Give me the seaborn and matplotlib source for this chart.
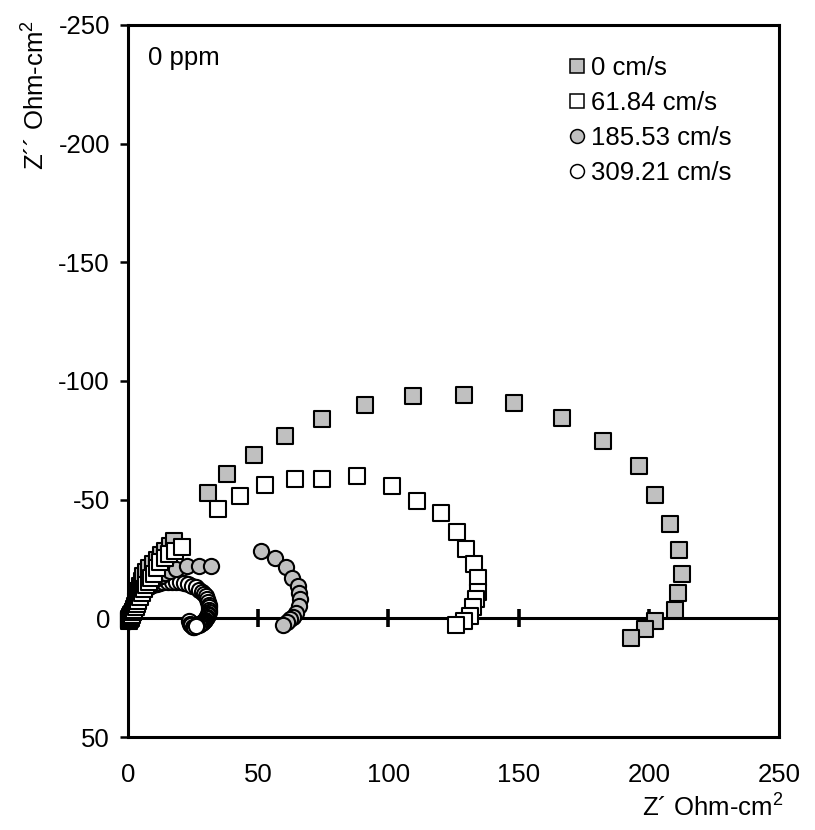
import matplotlib
matplotlib.use("Agg")
import matplotlib.pyplot as plt
from matplotlib.lines import Line2D
import numpy as np
import pandas as pd
import seaborn as sns

# Nyquist data, Z' (real) and Z'' (imaginary) in Ohm-cm^2
series_labels = ["0 cm/s", "61.84 cm/s", "185.53 cm/s", "309.21 cm/s"]

zre_0 = [0.2, 0.4, 0.6, 0.9, 1.2, 1.6, 2.0, 2.4, 2.7, 3.0, 3.3, 3.9, 4.6, 5.2, 5.9,
         7.0, 8.2, 9.7, 11.3, 12.7, 14.2, 16.0, 17.8, 30.8, 38.0,
         48.3, 60.3, 74.6, 91.1, 109.4, 129.0, 148.3, 166.8, 182.4, 196.1, 202.3,
         208.0, 211.5, 212.9, 211.3, 210.1, 202.4, 198.7, 193.3]
zim_0 = [0.8, 0.3, -0.2, -0.7, -1.2, -1.8, -2.8, -4.0, -5.3, -7.4, -9.5, -11.6, -13.7,
         -15.8, -17.9, -19.7, -21.4, -23.0, -24.6, -26.5, -28.4, -30.5, -32.6,
         -52.7, -61.0, -68.8, -77.0, -84.1, -90.0, -93.5, -93.9, -90.8, -84.4, -74.9,
         -64.2, -51.9, -39.7, -28.8, -18.6, -10.5, -3.6, 1.3, 4.6, 8.4]

zre_1 = [0.3, 0.5, 0.8, 1.0, 1.3, 1.6, 2.0, 2.4, 2.9, 3.4, 4.0, 4.6, 5.3, 6.0, 7.0,
         8.0, 9.0, 10.0, 11.2, 12.3, 14.1, 15.9, 18.2, 20.6, 34.6, 43.1,
         52.6, 64.2, 74.6, 87.9, 101.4, 110.9, 120.3, 126.2, 129.8, 132.7, 134.5,
         134.3, 133.8, 132.6, 131.3, 129.0, 126.0]
zim_1 = [1.2, 0.8, 0.2, -0.3, -0.9, -1.5, -2.5, -3.5, -4.7, -6.0, -7.5, -9.0, -10.8,
         -12.5, -14.0, -15.5, -17.0, -18.5, -21.2, -23.8, -25.4, -27.0, -28.5, -30.0,
         -46.0, -51.6, -56.2, -58.6, -58.9, -60.0, -55.8, -49.5, -44.3, -36.4, -29.1,
         -23.1, -16.8, -11.2, -8.1, -4.6, -1.1, 1.1, 2.9]

zre_2 = [0.3, 0.5, 0.7, 1.0, 1.5, 2.0, 2.5, 3.1, 3.7, 4.3, 5.1, 5.9, 7.0, 8.2, 9.6,
         11.0, 12.6, 14.2, 16.2, 18.3, 22.8, 27.3, 31.9, 50.9,
         56.5, 60.7, 63.0, 65.1, 65.6, 66.1, 65.5, 64.5, 63.2, 62.2, 60.9, 59.5]
zim_2 = [1.0, 0.5, -0.1, -0.8, -1.6, -2.4, -4.1, -5.9, -7.7, -9.5, -10.9, -12.3,
         -13.6, -14.8, -15.8, -16.8, -17.9, -18.9, -19.8, -20.7, -21.9, -22.2,
         -21.9, -28.3, -25.4, -21.6, -17.2, -13.6, -10.8, -8.0, -5.0, -2.4, -0.6, 0.4,
         1.5, 2.6]

zre_3 = [0.2, 0.4, 0.6, 0.9, 1.2, 1.5, 2.0, 2.3, 2.7, 3.3, 4.0, 4.9, 5.9, 7.0, 8.2,
         9.6, 11.0, 12.3, 13.6, 15.2, 16.8, 18.4, 20.0, 21.6, 23.2, 24.7, 26.1, 27.3,
         28.3, 29.1, 29.8, 30.4, 30.8, 31.1, 31.2, 31.2, 31.1, 30.9, 30.6, 30.3, 30.0,
         29.7, 29.3, 28.9, 28.5, 28.1, 27.6, 27.1, 26.6, 26.1, 25.6, 25.1, 24.7, 24.3,
         24.0, 23.8, 23.6, 23.8, 24.2, 24.8, 25.5, 26.3]
zim_3 = [1.0, 0.6, 0.1, -0.5, -1.2, -2.0, -2.9, -3.8, -5.2, -6.7, -8.1, -9.5, -11.6,
         -12.5, -13.4, -13.9, -14.4, -14.8, -15.1, -15.3, -15.5, -15.4, -15.1, -14.8,
         -14.4, -13.8, -13.0, -12.1, -11.2, -10.2, -9.2, -8.1, -7.0, -5.8, -4.6,
         -3.5, -2.5, -1.8, -1.2, -0.6, 0.0, 0.5, 1.0, 1.4, 1.8, 2.1, 2.4, 2.6, 2.8,
         2.9, 2.9, 2.8, 2.6, 2.3, 2.0, 1.6, 1.2, 2.2, 3.0, 3.5, 3.6, 3.3]

x_ticks = [0, 50, 100, 150, 200, 250]
y_ticks = [-250, -200, -150, -100, -50, 0, 50]
zero_ticks = [50, 100, 150, 200]

GRAY = "#C0C0C0"
marker_of = {series_labels[0]: "s", series_labels[1]: "s",
             series_labels[2]: "o", series_labels[3]: "o"}
face_of = {series_labels[0]: GRAY, series_labels[1]: "white",
           series_labels[2]: GRAY, series_labels[3]: "white"}

frames = []
for lab, xr, yi in zip(series_labels, [zre_0, zre_1, zre_2, zre_3],
                       [zim_0, zim_1, zim_2, zim_3]):
    frames.append(pd.DataFrame({"zre": xr, "zim": yi, "series": lab}))
df = pd.concat(frames, ignore_index=True)

sns.set_theme(style="white")
plt.rcParams["font.family"] = ["Liberation Sans", "DejaVu Sans"]
plt.rcParams["mathtext.fontset"] = "custom"
plt.rcParams["mathtext.rm"] = "Liberation Sans"
plt.rcParams["mathtext.it"] = "Liberation Sans"
plt.rcParams["text.color"] = "black"
plt.rcParams["axes.labelcolor"] = "black"
plt.rcParams["xtick.color"] = "black"
plt.rcParams["ytick.color"] = "black"

FS = 18.5
fig = plt.figure(figsize=(8.15, 8.30), dpi=100)
ax = fig.add_axes([128 / 815, 1 - 737 / 830, 651 / 815, 712 / 830])

# zero line with its crossing ticks
ax.axhline(0, color="black", lw=2.2, zorder=1)
sec = ax.secondary_xaxis(0, transform=ax.transData)
for sp in sec.spines.values():
    sp.set_visible(False)
sec.set_xticks(zero_ticks)
sec.tick_params(axis="x", direction="inout", length=13, width=2.6,
                color="black", labelbottom=False, labeltop=False)

draw_order = [series_labels[3], series_labels[2], series_labels[0], series_labels[1]]
for lab in draw_order:
    sub = df[df["series"] == lab]
    sns.scatterplot(data=sub, x="zre", y="zim", ax=ax, marker=marker_of[lab],
                    color=face_of[lab], edgecolor="black", linewidth=1.5,
                    s=120, legend=False, zorder=3, clip_on=False)

ax.set_xlim(0, 250)
ax.set_ylim(50, -250)
ax.set_xticks(x_ticks)
ax.set_yticks(y_ticks)
ax.set_xticklabels([str(v) for v in x_ticks], fontsize=FS, color="black")
ax.set_yticklabels([str(v) for v in y_ticks], fontsize=FS, color="black")
ax.tick_params(axis="x", length=0, pad=19, colors="black")
ax.tick_params(axis="y", direction="out", length=6, width=1.8, pad=7,
               colors="black", left=True)
ax.set_xlabel("")
ax.set_ylabel("")
for sp in ax.spines.values():
    sp.set_visible(True)
    sp.set_color("black")
    sp.set_linewidth(2.2)

ax.text(0.031, 0.953, "0 ppm", transform=ax.transAxes, fontsize=FS,
        ha="left", va="center", color="black")

handles = [Line2D([], [], linestyle="none", marker=marker_of[lab],
                  markerfacecolor=face_of[lab], markeredgecolor="black",
                  markeredgewidth=1.1, markersize=10, label=lab)
           for lab in series_labels]
leg = ax.legend(handles=handles, loc="upper left", bbox_to_anchor=(0.677, 0.956),
                frameon=False, fontsize=FS, handlelength=0.65, handletextpad=0.22,
                labelspacing=0.42, borderpad=0, borderaxespad=0)
for t in leg.get_texts():
    t.set_color("black")

fig.text(36 / 815, 1 - 20 / 830, "Z\u00b4\u00b4 Ohm-cm$^2$", rotation=90,
         fontsize=FS, ha="center", va="top", color="black")
fig.text(784 / 815, 1 - 808 / 830, "Z\u00b4 Ohm-cm$^2$", fontsize=FS,
         ha="right", va="center", color="black")

fig.savefig("out.png", dpi=100, facecolor="white")
